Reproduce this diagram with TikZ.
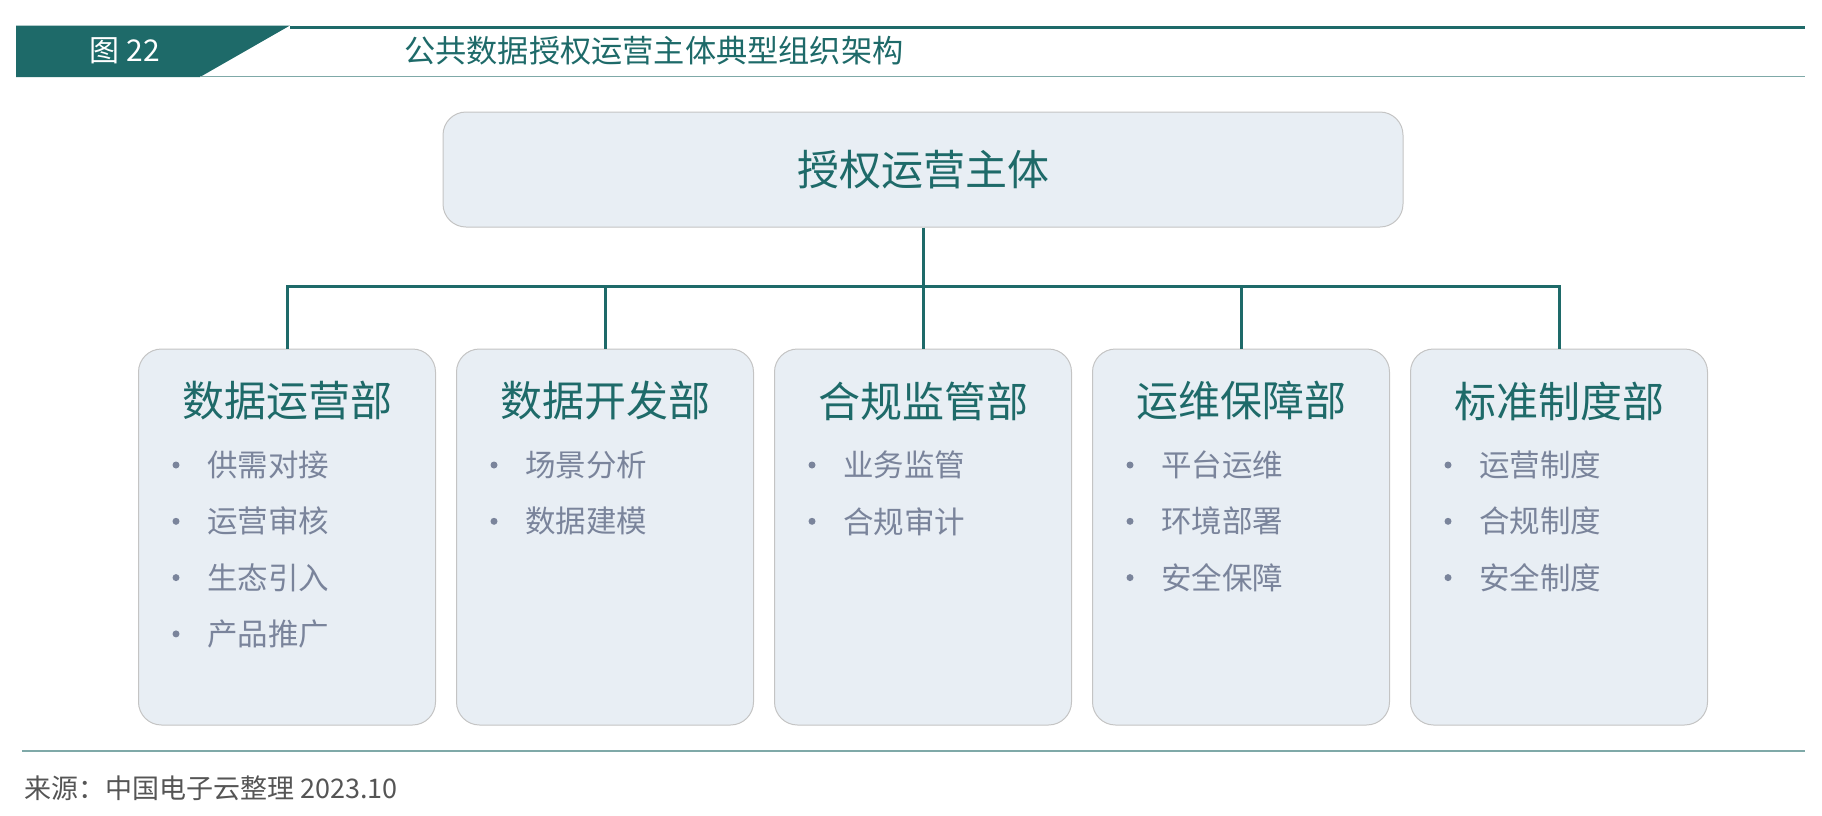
\documentclass[tikz,border=0pt]{standalone}
\usepackage{fontspec}
\setmainfont{Noto Sans CJK SC}
\definecolor{teal1}{HTML}{1E6A69}
\definecolor{tealline}{HTML}{7FA9A8}
\definecolor{boxfill}{HTML}{E8EEF4}
\definecolor{boxdraw}{HTML}{C4C4C4}
\definecolor{itemcol}{HTML}{7A849B}
\definecolor{srccol}{HTML}{555555}
\tikzset{
  topbox/.style={draw=boxdraw, line width=1pt, fill=boxfill, rounded corners=23pt, minimum width=960pt, minimum height=115pt, inner sep=0pt, text=teal1, font=\fontsize{42}{50}\selectfont},
  deptbox/.style={draw=boxdraw, line width=1pt, fill=boxfill, rounded corners=23pt, minimum width=297pt, minimum height=376pt, inner sep=0pt},
  depttitle/.style={text=teal1, font=\fontsize{42}{50}\selectfont, inner sep=0pt},
  item/.style={text=itemcol, font=\fontsize{30.5}{36}\selectfont, inner sep=0pt, anchor=west},
  dot/.style={circle, fill=itemcol, minimum size=7pt, inner sep=0pt},
  conn/.style={draw=teal1, line width=3pt},
}
\begin{document}
\begin{tikzpicture}[x=1pt,y=-1pt]
\useasboundingbox (0,0) rectangle (1822,815);
% header
\fill[teal1] (16,25.5) -- (290,25.5) -- (200,77) -- (16,77) -- cycle;
\draw[teal1, line width=3pt] (290,27) -- (1805,27);
\draw[tealline, line width=1.5pt] (200,76.5) -- (1805,76.5);
\node[text=white, font=\fontsize{30}{35}\selectfont, inner sep=0pt] (fig) at (125,51) {图 22};
\node[text=teal1, font=\fontsize{31.2}{36}\selectfont, inner sep=0pt, anchor=west] (title) at (404,51) {公共数据授权运营主体典型组织架构};
% top box
\node[topbox] (top) at (923,169.5) {授权运营主体};
% departments
\foreach \i/\cx in {1/287,2/605,3/923,4/1241,5/1559}{
  \node[deptbox] (d\i) at (\cx,537) {};
  \node[depttitle] (t\i) at (\cx,401) {};
}
\node[depttitle] at (t1) {数据运营部};
\node[depttitle] at (t2) {数据开发部};
\node[depttitle] at (t3) {合规监管部};
\node[depttitle] at (t4) {运维保障部};
\node[depttitle] at (t5) {标准制度部};
% items
\newcommand{\dept}[3]{%
  \node[dot] (b#1#2) at ([xshift=38pt]d#1.west |- 0,{465+56.3*(#2-1)}) {};
  \node[item] (i#1#2) at ([xshift=69pt]d#1.west |- 0,{465+56.3*(#2-1)}) {#3};
}
\dept{1}{1}{供需对接}
\dept{1}{2}{运营审核}
\dept{1}{3}{生态引入}
\dept{1}{4}{产品推广}
\dept{2}{1}{场景分析}
\dept{2}{2}{数据建模}
\dept{3}{1}{业务监管}
\dept{3}{2}{合规审计}
\dept{4}{1}{平台运维}
\dept{4}{2}{环境部署}
\dept{4}{3}{安全保障}
\dept{5}{1}{运营制度}
\dept{5}{2}{合规制度}
\dept{5}{3}{安全制度}
% connectors
\coordinate (j) at (923,286);
\draw[conn] (top.south) -- (j);
\draw[conn, line cap=rect] (d1.north |- j) -- (d5.north |- j);
\foreach \i in {1,...,5}{
  \draw[conn] (d\i.north |- j) -- (d\i.north);
}
% footer
\draw[tealline, line width=1.5pt] (22,751) -- (1805,751);
\node[text=srccol, font=\fontsize{27}{32}\selectfont, inner sep=0pt, anchor=west] (src) at (24,788) {来源：中国电子云整理 2023.10};
\end{tikzpicture}
\end{document}
